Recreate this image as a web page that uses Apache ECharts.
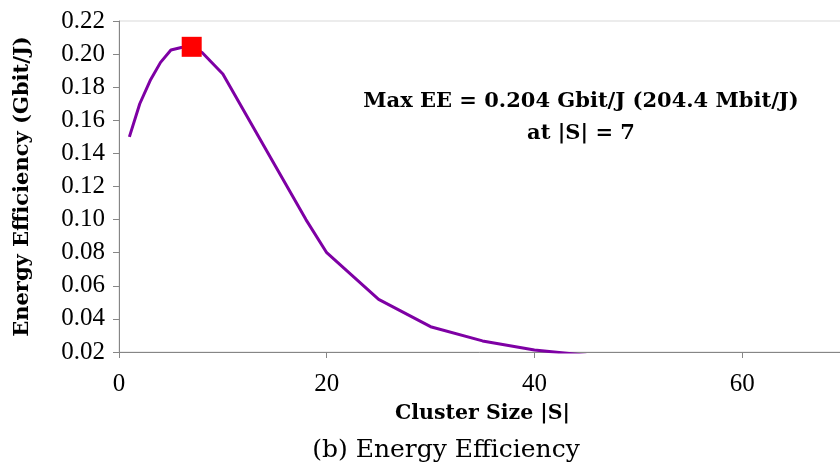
<!DOCTYPE html>
<html>
<head>
<meta charset="utf-8">
<script src="https://cdn.jsdelivr.net/npm/echarts@6/dist/echarts.min.js"></script>
<style>
  html, body { margin: 0; padding: 0; background: #fff; }
  #main { width: 840px; height: 474px; }
</style>
</head>
<body>
<div id="main"></div>
<script>
// cluster size |S| and energy efficiency (Gbit/J)
const clusterSize = [1, 2, 3, 4, 5, 6, 7, 8, 10, 15, 18, 20, 25, 30, 35, 40, 45, 50, 55, 60, 65];
const efficiency  = [0.150, 0.170, 0.184, 0.195, 0.2025, 0.204, 0.2044, 0.201, 0.188, 0.133, 0.100, 0.080,
                     0.0518, 0.0353, 0.0267, 0.0212, 0.0180, 0.0158, 0.0145, 0.0134, 0.0125];
const maxPoint = [7, 0.2044];
const yTicks = ['0.02', '0.04', '0.06', '0.08', '0.10', '0.12', '0.14', '0.16', '0.18', '0.20', '0.22'];

const serif = '"DejaVu Serif", "Liberation Serif", serif';
const tickFont = '"Liberation Serif", "DejaVu Serif", serif';
const chart = echarts.init(document.getElementById('main'));

const option = {
  animation: false,
  backgroundColor: '#fff',
  grid: {
    left: 119, right: -6, top: 21, bottom: 122,
    outerBoundsMode: 'none',
    containLabel: false,
    show: true, borderColor: '#d9d9d9', borderWidth: 1
  },
  xAxis: {
    type: 'value', min: 0, max: 70, interval: 20,
    name: 'Cluster Size |S|', nameLocation: 'middle', nameGap: 51,
    nameTextStyle: { fontFamily: serif, fontWeight: 'bold', fontSize: 20.5, color: '#000' },
    axisLine: { lineStyle: { color: '#868686', width: 1 } },
    axisTick: { show: true, length: 6, lineStyle: { color: '#868686' } },
    axisLabel: { fontFamily: tickFont, fontSize: 25, color: '#000', margin: 20, showMaxLabel: false },
    splitLine: { show: false }
  },
  yAxis: {
    type: 'value', min: 0.02, max: 0.22, interval: 0.02,
    name: 'Energy Efficiency (Gbit/J)', nameLocation: 'middle', nameGap: 86,
    nameTextStyle: { fontFamily: serif, fontWeight: 'bold', fontSize: 21, color: '#000' },
    axisLine: { show: true, lineStyle: { color: '#868686', width: 1 } },
    axisTick: { show: true, length: 6, lineStyle: { color: '#868686' } },
    axisLabel: {
      fontFamily: tickFont, fontSize: 25, color: '#000', margin: 14,
      formatter: function (v) { return yTicks[Math.round((v - 0.02) / 0.02)]; }
    },
    splitLine: { show: false }
  },
  graphic: [
    {
      type: 'text', x: 446, y: 438,
      style: { text: '(b) Energy Efficiency', font: '25px ' + serif, fill: '#000', align: 'center' }
    },
    {
      type: 'text', x: 581, y: 86,
      style: {
        text: 'Max EE = 0.204 Gbit/J (204.4 Mbit/J)\nat |S| = 7',
        font: 'bold 21px ' + serif, fill: '#000', align: 'center', lineHeight: 32
      }
    }
  ],
  series: [
    {
      type: 'line',
      data: clusterSize.map(function (s, i) { return [s, efficiency[i]]; }),
      showSymbol: false,
      clip: true,
      lineStyle: { color: '#7e00a4', width: 3 },
      z: 2
    },
    {
      type: 'scatter',
      data: [maxPoint],
      symbol: 'rect',
      symbolSize: 20,
      itemStyle: { color: '#ff0000', opacity: 1 },
      z: 3
    }
  ]
};

chart.setOption(option);
</script>
</body>
</html>
